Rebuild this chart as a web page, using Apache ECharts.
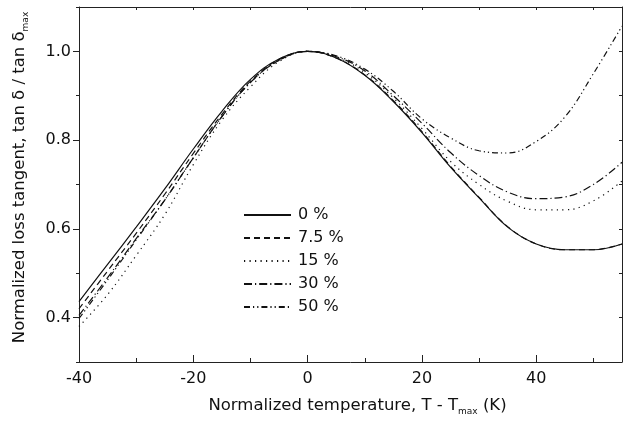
<!DOCTYPE html>
<html>
<head>
<meta charset="utf-8">
<script src="https://cdn.jsdelivr.net/npm/echarts@6/dist/echarts.min.js"></script>
<style>html,body{margin:0;padding:0;background:#fff;}#c{width:627px;height:423px;}</style>
</head>
<body>
<div id="c"></div>
<script>
// ---- data ----
var temps = [-40, -35, -30, -25, -20, -15, -10, -5, 0, 5, 10, 15, 20, 25, 30, 35, 40, 45, 50, 55];
var seriesNames = ['0 %', '7.5 %', '15 %', '30 %', '50 %'];
var s0   = [0.436, 0.520, 0.604, 0.690, 0.780, 0.865, 0.937, 0.983, 1.000, 0.985, 0.946, 0.887, 0.817, 0.739, 0.670, 0.604, 0.566, 0.553, 0.553, 0.566];
var s75  = [0.420, 0.505, 0.590, 0.678, 0.770, 0.858, 0.933, 0.982, 1.000, 0.985, 0.947, 0.889, 0.819, 0.741, 0.671, 0.605, 0.566, 0.553, 0.553, 0.566];
var s15  = [0.380, 0.452, 0.540, 0.632, 0.745, 0.845, 0.920, 0.977, 1.000, 0.987, 0.952, 0.895, 0.826, 0.752, 0.700, 0.662, 0.643, 0.643, 0.663, 0.708];
var s30  = [0.405, 0.490, 0.578, 0.665, 0.760, 0.853, 0.930, 0.980, 1.000, 0.988, 0.956, 0.900, 0.838, 0.772, 0.720, 0.683, 0.668, 0.672, 0.700, 0.750];
var s50  = [0.398, 0.485, 0.575, 0.665, 0.760, 0.853, 0.930, 0.980, 1.000, 0.990, 0.960, 0.910, 0.848, 0.805, 0.776, 0.771, 0.797, 0.852, 0.950, 1.057];
var xMajorTicks = [-40, -20, 0, 20, 40];
var yMajorTicks = [0.4, 0.6, 0.8, 1.0];

var allSeries = [s0, s75, s15, s30, s50];
var dashes = ['solid', [6, 4], [1.2, 4.3], [8, 3, 1.2, 3], [6, 3, 1.2, 3, 1.2, 3]];

var FONT = 'DejaVu Sans';
var AX = '#222';
var TXT = '#111';

function pairs(ys) { return temps.map(function (t, i) { return [t, ys[i]]; }); }

var chart = echarts.init(document.getElementById('c'), null, {renderer: 'canvas'});
var noZero = {onZero: false};
var option = {
  animation: false,
  backgroundColor: '#fff',
  textStyle: {fontFamily: FONT},
  grid: {left: 79, right: 5, top: 7, bottom: 61, containLabel: false},
  legend: {
    orient: 'vertical', left: 243, top: 207, padding: 0,
    itemWidth: 47, itemHeight: 14, itemGap: 7,
    data: seriesNames,
    itemStyle: {color: 'rgba(0,0,0,0)', borderColor: 'rgba(0,0,0,0)', borderWidth: 0},
    textStyle: {fontFamily: FONT, fontSize: 16, color: TXT, padding: [0, 0, 0, 2]}
  },
  xAxis: [
    {
      type: 'value', position: 'bottom', min: -40, max: 55, interval: 20,
      axisLine: {show: true, onZero: false, lineStyle: {color: AX, width: 1}},
      axisTick: {show: true, inside: true, length: 7, lineStyle: {color: AX}, customValues: xMajorTicks},
      axisLabel: {fontFamily: FONT, fontSize: 16, color: TXT, margin: 9, customValues: xMajorTicks},
      splitLine: {show: false},
      name: 'Normalized temperature, T - T{sub|max} (K)',
      nameLocation: 'middle', nameGap: 33,
      nameTextStyle: {fontFamily: FONT, fontSize: 16.5, color: TXT, padding: [0, 0, 0, 14],
        rich: {sub: {fontFamily: FONT, fontSize: 9, color: TXT, padding: [12, 0, 0, 0]}}}
    },
    {
      type: 'value', position: 'bottom', min: -40, max: 55, interval: 10,
      axisLine: {show: false, onZero: false},
      axisTick: {show: true, inside: true, length: 4, lineStyle: {color: AX}},
      axisLabel: {show: false}, splitLine: {show: false}
    },
    {
      type: 'value', position: 'top', min: -40, max: 55, interval: 10,
      axisLine: {show: true, onZero: false, lineStyle: {color: AX, width: 1}},
      axisTick: {show: true, inside: true, length: 3, lineStyle: {color: AX}},
      axisLabel: {show: false}, splitLine: {show: false}
    }
  ],
  yAxis: [
    {
      type: 'value', position: 'left', min: 0.3, max: 1.1,
      axisLine: {show: true, onZero: false, lineStyle: {color: AX, width: 1}},
      axisTick: {show: true, inside: false, length: 6, lineStyle: {color: AX}, customValues: yMajorTicks},
      axisLabel: {fontFamily: FONT, fontSize: 16, color: TXT, margin: 8, customValues: yMajorTicks,
        formatter: function (v) { return v.toFixed(1); }},
      splitLine: {show: false},
      name: 'Normalized loss tangent, tan δ / tan δ{sub|max}',
      nameLocation: 'middle', nameGap: 49, nameRotate: 90,
      nameTextStyle: {fontFamily: FONT, fontSize: 16.5, color: TXT, padding: [0, 0, 0, 14],
        rich: {sub: {fontFamily: FONT, fontSize: 9, color: TXT, padding: [12, 0, 0, 0]}}}
    },
    {
      type: 'value', position: 'left', min: 0.3, max: 1.1, interval: 0.1,
      axisLine: {show: false, onZero: false},
      axisTick: {show: true, inside: false, length: 3, lineStyle: {color: AX}},
      axisLabel: {show: false}, splitLine: {show: false}
    },
    {
      type: 'value', position: 'right', min: 0.3, max: 1.1, interval: 0.1,
      axisLine: {show: true, onZero: false, lineStyle: {color: AX, width: 1}},
      axisTick: {show: true, inside: true, length: 3, lineStyle: {color: AX}},
      axisLabel: {show: false}, splitLine: {show: false}
    }
  ],
  series: allSeries.map(function (ys, i) {
    return {
      name: seriesNames[i], type: 'line', xAxisIndex: 0, yAxisIndex: 0,
      data: pairs(ys), smooth: 0.4, showSymbol: false, symbol: 'none',
      color: '#111',
      lineStyle: {color: '#111', width: 1.2, type: dashes[i]},
      z: 5 - i
    };
  })
};
chart.setOption(option);
</script>
</body>
</html>
